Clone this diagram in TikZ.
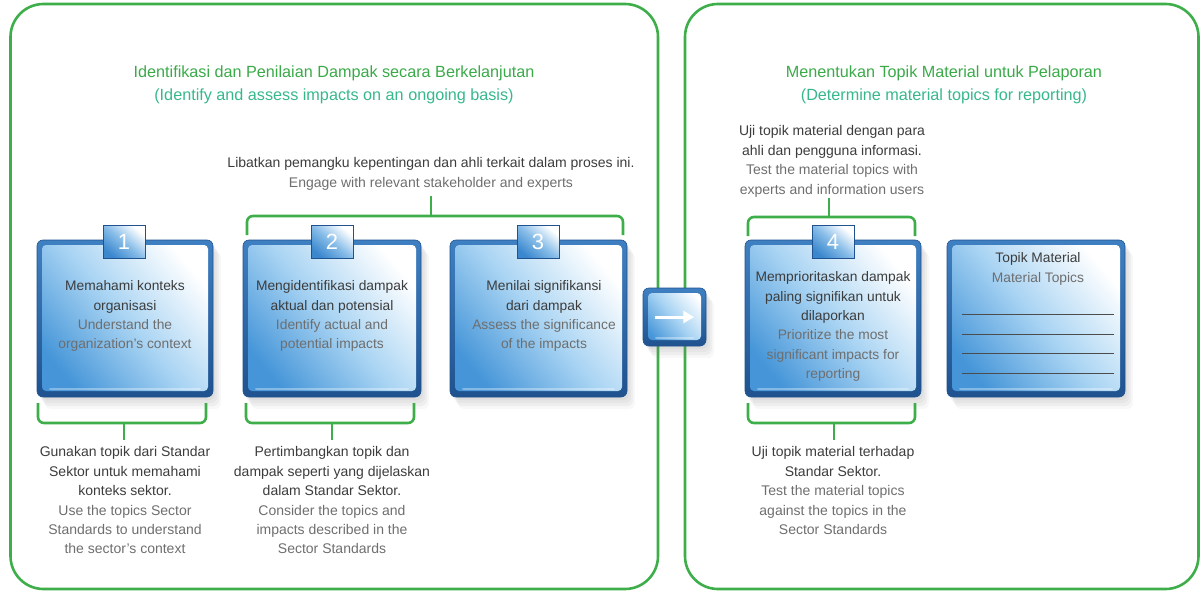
\documentclass[tikz,border=0pt]{standalone}
\usepackage{fontspec}
\setmainfont{Liberation Sans}
\usetikzlibrary{shadows,arrows.meta,calc}
\definecolor{pgreen}{HTML}{3DAE49}
\definecolor{tgreenA}{HTML}{3AAA48}
\definecolor{tgreenB}{HTML}{36B88A}
\definecolor{tdark}{HTML}{3C3C3C}
\definecolor{tgrey}{HTML}{6E6E6E}
\definecolor{rimtop}{HTML}{3F80C2}
\definecolor{rimbot}{HTML}{1F528E}
\definecolor{gblue}{HTML}{4595D8}
\definecolor{glight}{HTML}{A9D4F3}
\definecolor{tabblue}{HTML}{3A87CE}
\tikzset{
  x=1pt, y=-1pt,
  panel/.style={draw=pgreen, line width=2.6pt, rounded corners=33pt},
  brk/.style={draw=pgreen, line width=2.6pt, rounded corners=6pt},
  softshadow/.style={
    drop shadow={opacity=0.08, shadow xshift=2pt, shadow yshift=-3pt},
    drop shadow={opacity=0.08, shadow xshift=4pt, shadow yshift=-6pt},
    drop shadow={opacity=0.08, shadow xshift=6pt, shadow yshift=-9pt},
    drop shadow={opacity=0.06, shadow xshift=8pt, shadow yshift=-12pt}},
  gbox/.style={rounded corners=6pt, top color=rimtop, bottom color=rimbot,
    draw=rimbot, line width=0.6pt, softshadow, inner sep=0pt,
    path picture={\shade[rounded corners=4pt, top color=white, bottom color=gblue,
      middle color=glight, shading angle=-50]
      ([shift={(5pt,6pt)}]path picture bounding box.south west) rectangle
      ([shift={(-5pt,-5pt)}]path picture bounding box.north east);
      \fill[white, opacity=0.35, rounded corners=2pt]
      ([shift={(12pt,7pt)}]path picture bounding box.south west) rectangle
      ([shift={(-12pt,9pt)}]path picture bounding box.south east);}},
  tabbox/.style={minimum width=42pt, minimum height=33pt, inner sep=0pt,
    draw=rimbot, line width=0.6pt, top color=white, bottom color=tabblue,
    middle color=glight!70!tabblue, shading angle=-40,
    text=white, font=\fontsize{22}{22}\selectfont},
  btxt/.style={align=center, inner sep=0pt, text=tdark, font=\fontsize{13.8}{19.4}\selectfont},
  otxt/.style={align=center, inner sep=0pt, text=tdark, font=\fontsize{14}{19.4}\selectfont},
  ttl/.style={align=center, inner sep=0pt, font=\fontsize{16.2}{23}\selectfont}
}
\begin{document}
\begin{tikzpicture}
\useasboundingbox (0,0) rectangle (1200,591);
% panels
\draw[panel] (10.5,4) rectangle (658,589);
\draw[panel] (685,4) rectangle (1198.5,589);
% titles
\node[ttl, anchor=north] (tL) at (334,65.5) {\textcolor{tgreenA}{Identifikasi dan Penilaian Dampak secara Berkelanjutan}\\\textcolor{tgreenB}{(Identify and assess impacts on an ongoing basis)}};
\node[ttl, anchor=north] (tR) at (944,65.5) {\textcolor{tgreenA}{Menentukan Topik Material untuk Pelaporan}\\\textcolor{tgreenB}{(Determine material topics for reporting)}};
% boxes
\node[gbox, minimum width=176pt, minimum height=157pt] (b1) at (125,318.5) {};
\node[gbox, minimum width=178pt, minimum height=157pt] (b2) at (332,318.5) {};
\node[gbox, minimum width=177pt, minimum height=157pt] (b3) at (538.5,318.5) {};
\node[gbox, minimum width=176pt, minimum height=157pt] (b4) at (833,318.5) {};
\node[gbox, minimum width=178pt, minimum height=157pt] (b5) at (1036,318.5) {};
\node[gbox, minimum width=63pt, minimum height=58pt] (arr) at (674.5,317) {};
\draw[white, line width=3pt, -{Triangle[length=11pt,width=12pt]}] ([xshift=12pt]arr.west) -- ([xshift=-12pt]arr.east);
% tabs
\node[tabbox] (t1) at (124,242) {1};
\node[tabbox] (t2) at (332,242) {2};
\node[tabbox] (t3) at (538,242) {3};
\node[tabbox] (t4) at (833,242) {4};
% box texts
\node[btxt, anchor=north] (x1) at (125,280.5) {Memahami konteks\\organisasi\\\textcolor{tgrey}{Understand the}\\\textcolor{tgrey}{organization’s context}};
\node[btxt, anchor=north] (x2) at (332,280.5) {Mengidentifikasi dampak\\aktual dan potensial\\\textcolor{tgrey}{Identify actual and}\\\textcolor{tgrey}{potential impacts}};
\node[btxt, anchor=north] (x3) at (544,280.5) {Menilai signifikansi\\dari dampak\\\textcolor{tgrey}{Assess the significance}\\\textcolor{tgrey}{of the impacts}};
\node[btxt, anchor=north] (x4) at (833,271.5) {Memprioritaskan dampak\\paling signifikan untuk\\dilaporkan\\\textcolor{tgrey}{Prioritize the most}\\\textcolor{tgrey}{significant impacts for}\\\textcolor{tgrey}{reporting}};
\node[btxt, anchor=north] (x5) at (1038,252.5) {Topik Material\\\textcolor{tgrey}{Material Topics}};
\foreach \yy in {314,334,353,373}
  \draw[gray!60!black, line width=0.8pt] (962,\yy) -- (1114,\yy);
% outer texts
\node[otxt, anchor=north] (o23) at (431,157.5) {Libatkan pemangku kepentingan dan ahli terkait dalam proses ini.\\\textcolor{tgrey}{Engage with relevant stakeholder and experts}};
\node[otxt, anchor=north] (o4t) at (832,125.5) {Uji topik material dengan para\\ahli dan pengguna informasi.\\\textcolor{tgrey}{Test the material topics with}\\\textcolor{tgrey}{experts and information users}};
\node[otxt, anchor=north] (o1b) at (125,446.5) {Gunakan topik dari Standar\\Sektor untuk memahami\\konteks sektor.\\\textcolor{tgrey}{Use the topics Sector}\\\textcolor{tgrey}{Standards to understand}\\\textcolor{tgrey}{the sector’s context}};
\node[otxt, anchor=north] (o2b) at (332,446.5) {Pertimbangkan topik dan\\dampak seperti yang dijelaskan\\dalam Standar Sektor.\\\textcolor{tgrey}{Consider the topics and}\\\textcolor{tgrey}{impacts described in the}\\\textcolor{tgrey}{Sector Standards}};
\node[otxt, anchor=north] (o4b) at (833,446.5) {Uji topik material terhadap\\Standar Sektor.\\\textcolor{tgrey}{Test the material topics}\\\textcolor{tgrey}{against the topics in the}\\\textcolor{tgrey}{Sector Standards}};
% brackets
\coordinate (s23) at (431,216);
\draw[brk] (247,235) |- (623,216) -- (623,235);
\draw[brk] (s23) -- (431,196);
\coordinate (s4t) at (829,217);
\draw[brk] (748,236) |- (915,217) -- (915,236);
\draw[brk] (s4t) -- (829,198);
\coordinate (s1b) at (124,423);
\draw[brk] (38,403) |- (206,423) -- (206,403);
\draw[brk] (s1b) -- (124,440);
\coordinate (s2b) at (332,423);
\draw[brk] (246,403) |- (414,423) -- (414,403);
\draw[brk] (s2b) -- (332,440);
\coordinate (s4b) at (834,423);
\draw[brk] (748,403) |- (915,423) -- (915,403);
\draw[brk] (s4b) -- (834,440);
\end{tikzpicture}
\end{document}
